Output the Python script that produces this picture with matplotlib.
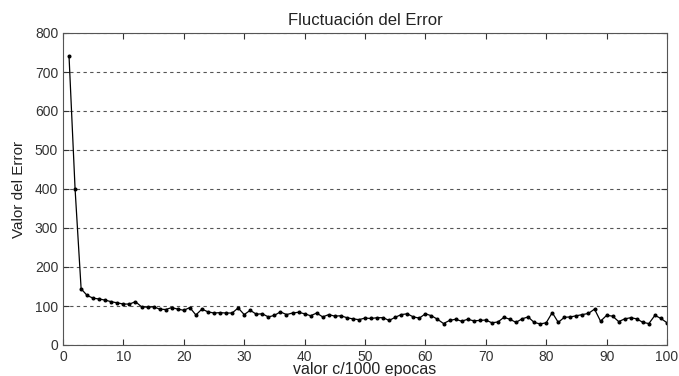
import matplotlib
matplotlib.use("Agg")
import matplotlib.pyplot as plt

plt.rcParams['font.family'] = ['Liberation Sans', 'DejaVu Sans']

epochs = list(range(1, 101))
error = [740, 400, 144, 127, 120, 118, 115, 111, 108, 105,
         105, 111, 98, 97, 98, 92, 91, 96, 92, 89,
         96, 77, 92, 85, 82, 83, 82, 82, 95, 78,
         89, 79, 80, 72, 76, 85, 78, 82, 84, 80,
         75, 82, 72, 78, 74, 75, 70, 67, 65, 69,
         68, 70, 70, 63, 71, 78, 80, 72, 69, 80,
         75, 66, 55, 63, 66, 61, 66, 62, 63, 64,
         57, 59, 71, 66, 58, 67, 72, 58, 54, 57,
         83, 58, 71, 72, 75, 78, 81, 92, 61, 76,
         74, 60, 67, 70, 67, 58, 55, 76, 68, 57]
xticks = [0, 10, 20, 30, 40, 50, 60, 70, 80, 90, 100]
yticks = [0, 100, 200, 300, 400, 500, 600, 700, 800]

fig = plt.figure(figsize=(6.79, 3.76), dpi=100)
ax = fig.add_axes([63/679, 1-345/376, (667-63)/679, (345-33)/376])
ax.plot(epochs, error, color='black', linewidth=0.9, marker='.', markersize=3.8)
ax.set_xlim(0, 100)
ax.set_ylim(0, 800)
ax.set_xticks(xticks)
ax.set_yticks(yticks)
ax.yaxis.grid(True, linestyle=(0, (3, 3)), color='#555555', linewidth=0.8)
ax.tick_params(direction='in', top=True, right=True, labelsize=10, length=4, colors='#333333')
for s in ax.spines.values():
    s.set_color('#555555')
ax.set_title('Fluctuación del Error', fontsize=12, pad=6, color='#222222')
ax.set_xlabel('valor c/1000 epocas', fontsize=11.5, labelpad=-1, color='#222222')
ax.set_ylabel('Valor del Error', fontsize=11, labelpad=6, color='#222222')
fig.savefig('out.png', dpi=100)
